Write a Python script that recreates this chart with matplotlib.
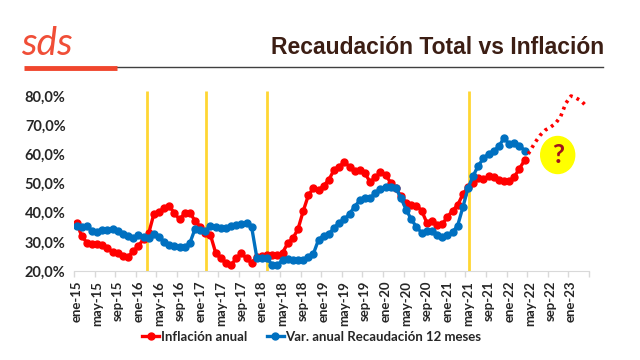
import matplotlib
matplotlib.use("Agg")
import matplotlib.pyplot as plt
from matplotlib.lines import Line2D
from matplotlib.patches import Ellipse
from matplotlib.ticker import FixedLocator, FuncFormatter

# months ene-15 .. abr-23 (100 months)
MESES = ["ene", "feb", "mar", "abr", "may", "jun",
         "jul", "ago", "sep", "oct", "nov", "dic"]
meses = [f"{MESES[i % 12]}-{15 + i // 12}" for i in range(100)]

inflacion = [36.5, 32.0, 29.7, 29.1, 29.3, 28.9, 27.8, 26.6, 26.1, 25.3,
             24.9, 26.8, 28.6, 30.9, 32.9, 39.5, 40.3, 41.5, 42.3, 39.8,
             37.7, 39.8, 40.0, 37.2, 35.2, 33.1, 32.3, 26.3, 24.3, 22.8,
             22.1, 24.3, 26.1, 24.3, 22.8, 24.8, 25.0, 25.4, 25.4, 25.5,
             26.3, 29.5, 31.2, 34.4, 40.5, 45.9, 48.5, 47.6, 49.3, 51.3,
             54.7, 55.8, 57.3, 55.8, 54.4, 54.5, 53.5, 50.5, 52.1, 53.8,
             52.9, 50.3, 48.4, 45.6, 43.4, 42.8, 42.4, 40.7, 36.6, 37.2,
             35.8, 36.1, 38.5, 40.7, 42.6, 46.3, 48.8, 50.2, 51.8, 51.4,
             52.5, 52.1, 51.2, 50.9, 50.7, 52.3, 55.1, 58.0]
# projection may-22 .. abr-23 (dotted)
proyeccion = [61.0, 64.0, 66.5, 68.3, 69.3, 70.6, 73.0, 77.5, 80.0, 79.3,
              78.3, 76.5]
recaudacion = [35.3, 35.1, 35.4, 33.8, 33.3, 33.9, 34.1, 34.3, 33.6, 32.7,
               32.0, 31.4, 32.2, 31.7, 31.4, 32.7, 31.7, 30.0, 29.0, 28.5,
               28.4, 28.1, 29.6, 34.4, 34.0, 33.6, 35.5, 35.0, 34.6, 34.8,
               35.4, 35.7, 36.0, 36.5, 35.0, 24.6, 24.4, 24.4, 22.0, 21.9,
               23.8, 24.1, 23.8, 23.7, 23.8, 24.9, 26.0, 30.8, 32.1, 32.8,
               34.7, 36.6, 37.7, 39.6, 42.1, 44.2, 45.0, 45.0, 46.7, 48.1,
               48.7, 48.7, 48.4, 45.0, 41.0, 37.7, 35.1, 33.1, 33.7, 33.8,
               32.5, 31.8, 32.3, 33.3, 35.6, 41.8, 48.4, 52.6, 56.1, 58.6,
               60.2, 61.1, 62.7, 65.7, 63.5, 64.0, 63.0, 61.3]
# vertical markers (month index)
marcas = [13.6, 25.2, 37.0, 76.2]

ROJO = "#FF0000"
AZUL = "#0070C0"
TXT = "#262626"
FONT = ["Lato", "DejaVu Sans"]
plt.rcParams["font.family"] = FONT

fig = plt.figure(figsize=(6.4, 3.6), dpi=100)
ax = fig.add_axes([74 / 640, 1 - 271 / 360, 515 / 640, 175 / 360])

x_inf = list(range(len(inflacion)))
x_rec = list(range(len(recaudacion)))
x_proy = [len(inflacion) - 1 + k for k in range(len(proyeccion) + 1)]

ax.vlines(marcas, 20, 81.6, color="#FFD633", lw=2, clip_on=False, zorder=1)
ax.plot(x_inf, inflacion, color=ROJO, lw=2.4, marker="o", ms=5,
        label="Inflación anual", zorder=3)
ax.plot(x_rec, recaudacion, color=AZUL, lw=2.4, marker="o", ms=5,
        label="Var. anual Recaudación 12 meses", zorder=3)
ax.plot(x_proy, [inflacion[-1]] + proyeccion, color=ROJO, lw=2.6,
        ls=(0, (0.8, 1.2)), clip_on=False, zorder=3)

ax.set_xlim(-0.5, 99.5)
ax.set_ylim(20, 80)
ax.set_yticks(range(20, 81, 10))
ax.yaxis.set_major_formatter(FuncFormatter(lambda v, p: f"{v:.1f}%".replace(".", ",")))
ax.set_xticks(range(0, 100, 4))
ax.set_xticklabels([meses[i] for i in range(0, 100, 4)], rotation=90)
ax.xaxis.set_minor_locator(FixedLocator([k - 0.5 for k in range(0, 101, 4)]))
ax.tick_params(axis="x", which="major", length=0, pad=7)
ax.tick_params(axis="x", which="minor", length=4, color="#D9D9D9", width=1)
ax.tick_params(axis="y", length=0, pad=6)
for lab in ax.get_xticklabels():
    lab.set_fontweight("bold")
    lab.set_color(TXT)
    lab.set_fontsize(9.5)
for lab in ax.get_yticklabels():
    lab.set_fontweight("bold")
    lab.set_color(TXT)
    lab.set_fontsize(10.5)
for s in ["top", "right", "left"]:
    ax.spines[s].set_visible(False)
ax.spines["bottom"].set_color("#D9D9D9")

leg = fig.legend(loc="center", bbox_to_anchor=(0.487, 1 - 337 / 360), ncol=2,
                 frameon=False, handlelength=1.3, columnspacing=1.5,
                 handletextpad=0.1, prop={"weight": "bold", "size": 9.5})
for t in leg.get_texts():
    t.set_color(TXT)

# header
fig.text(604 / 640, 1 - 48 / 360, "Recaudación Total vs Inflación",
         ha="right", va="center", fontsize=16.5, fontweight="bold",
         color="#3C1E14", family=["Liberation Sans Narrow", "Liberation Sans", "DejaVu Sans"])
fig.add_artist(Line2D([116 / 640, 603 / 640], [1 - 67 / 360] * 2,
                      color="#404040", lw=1))
fig.add_artist(Line2D([24 / 640, 117 / 640], [1 - 67.5 / 360] * 2,
                      color="#F0462D", lw=3.5, solid_capstyle="butt"))
fig.text(21 / 640, 1 - 44 / 360, "sds", ha="left", va="center", fontsize=28,
         style="italic", color="#F04E37")

# question mark badge
fig.add_artist(Ellipse((557.7 / 640, 1 - 155 / 360), 34 / 640, 37 / 360,
                       transform=fig.transFigure, color="#FFFF00", zorder=5))
fig.text(557.7 / 640, 1 - 155 / 360, "?", ha="center", va="center",
         fontsize=19, fontweight="bold", color="#A0121E", zorder=6)

fig.savefig("out.png", dpi=100)
